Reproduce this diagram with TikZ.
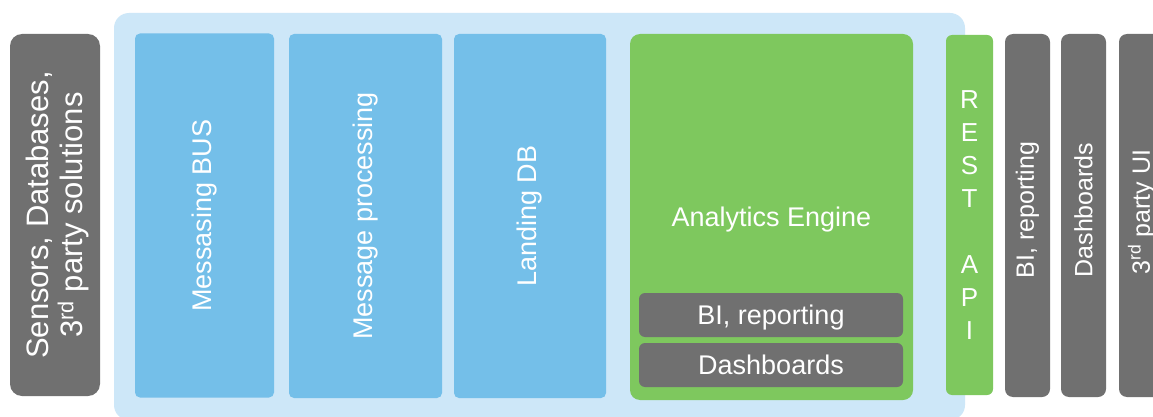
\documentclass[tikz,border=0pt]{standalone}
\usepackage{fontspec}
\setmainfont{Liberation Sans}
\usepackage{tikz}
\usetikzlibrary{positioning}
\definecolor{PanelBlue}{RGB}{205,231,248}
\definecolor{BlockBlue}{RGB}{116,191,233}
\definecolor{EngineGreen}{RGB}{126,200,94}
\definecolor{BlockGray}{RGB}{112,112,112}
\newcommand{\txtsize}{\fontsize{27}{33}\selectfont}

\begin{document}
\begin{tikzpicture}[x=1pt, y=-1pt,
    block/.style={rectangle, rounded corners=5pt, inner sep=0pt, text=white, font=\txtsize, align=center},
    vblock/.style={block, rotate=90},
    blueblock/.style={vblock, fill=BlockBlue, minimum height=#1, minimum width=364pt},
    grayblock/.style={vblock, fill=BlockGray, rounded corners=8pt, minimum height=45pt, minimum width=363pt},
    subblock/.style={block, fill=BlockGray, rounded corners=6pt, minimum width=264pt, minimum height=44pt,
                     text height=19pt, text depth=0pt},
    vlabel/.style={vblock, font=\fontsize{25}{30}\selectfont}]
      \useasboundingbox (0,0) rectangle (1153,417);
      \fill[white] (0,0) rectangle (1153,417);
      \fill[PanelBlue, rounded corners=15pt] (114,13) rectangle (965,420);
      % sources
      \node[vblock, fill=BlockGray, rounded corners=12pt, minimum width=362pt, minimum height=90pt] (src) at (55,215) {};
      \node[vblock, font=\fontsize{31}{34}\selectfont] (srctxt) at (57.5,215) {Sensors, Databases,\\3\textsuperscript{rd} party solutions};
      % pipeline
      \node[blueblock=139pt] (bus) at (204.5,215.5) {Messasing BUS};
      \node[blueblock=153pt] (proc) at (365.5,216) {Message processing};
      \node[blueblock=152pt] (landing) at (530,216) {Landing DB};
      \node[block, fill=EngineGreen, rounded corners=10pt, minimum width=283pt, minimum height=366pt] (engine) at (771.5,217) {};
      \node[block] (enginetxt) at (771.5,220) {Analytics Engine};
      \node[subblock] (bi) at (771,315) {BI, reporting};
      \node[subblock] (dash) at (771,365) {Dashboards};
      \node[block, fill=EngineGreen, rounded corners=6pt, minimum width=47pt, minimum height=360pt,
            font=\fontsize{26}{33}\selectfont] (rest) at (969.5,215) {R\\E\\S\\T\\~\\A\\P\\I};
      % consumers
      \node[grayblock] (bi2) at (1027.5,215.5) {};
      \node[grayblock] (dash2) at (1083.5,215.5) {};
      \node[grayblock] (ui) at (1141.5,215.5) {};
      \node[vlabel] (bi2txt) at (1027.5,210) {BI, reporting};
      \node[vlabel] (dash2txt) at (1083.5,210) {Dashboards};
      \node[vlabel] (uitxt) at (1141.5,212) {3\textsuperscript{rd} party UI};
    \end{tikzpicture}
\end{document}
